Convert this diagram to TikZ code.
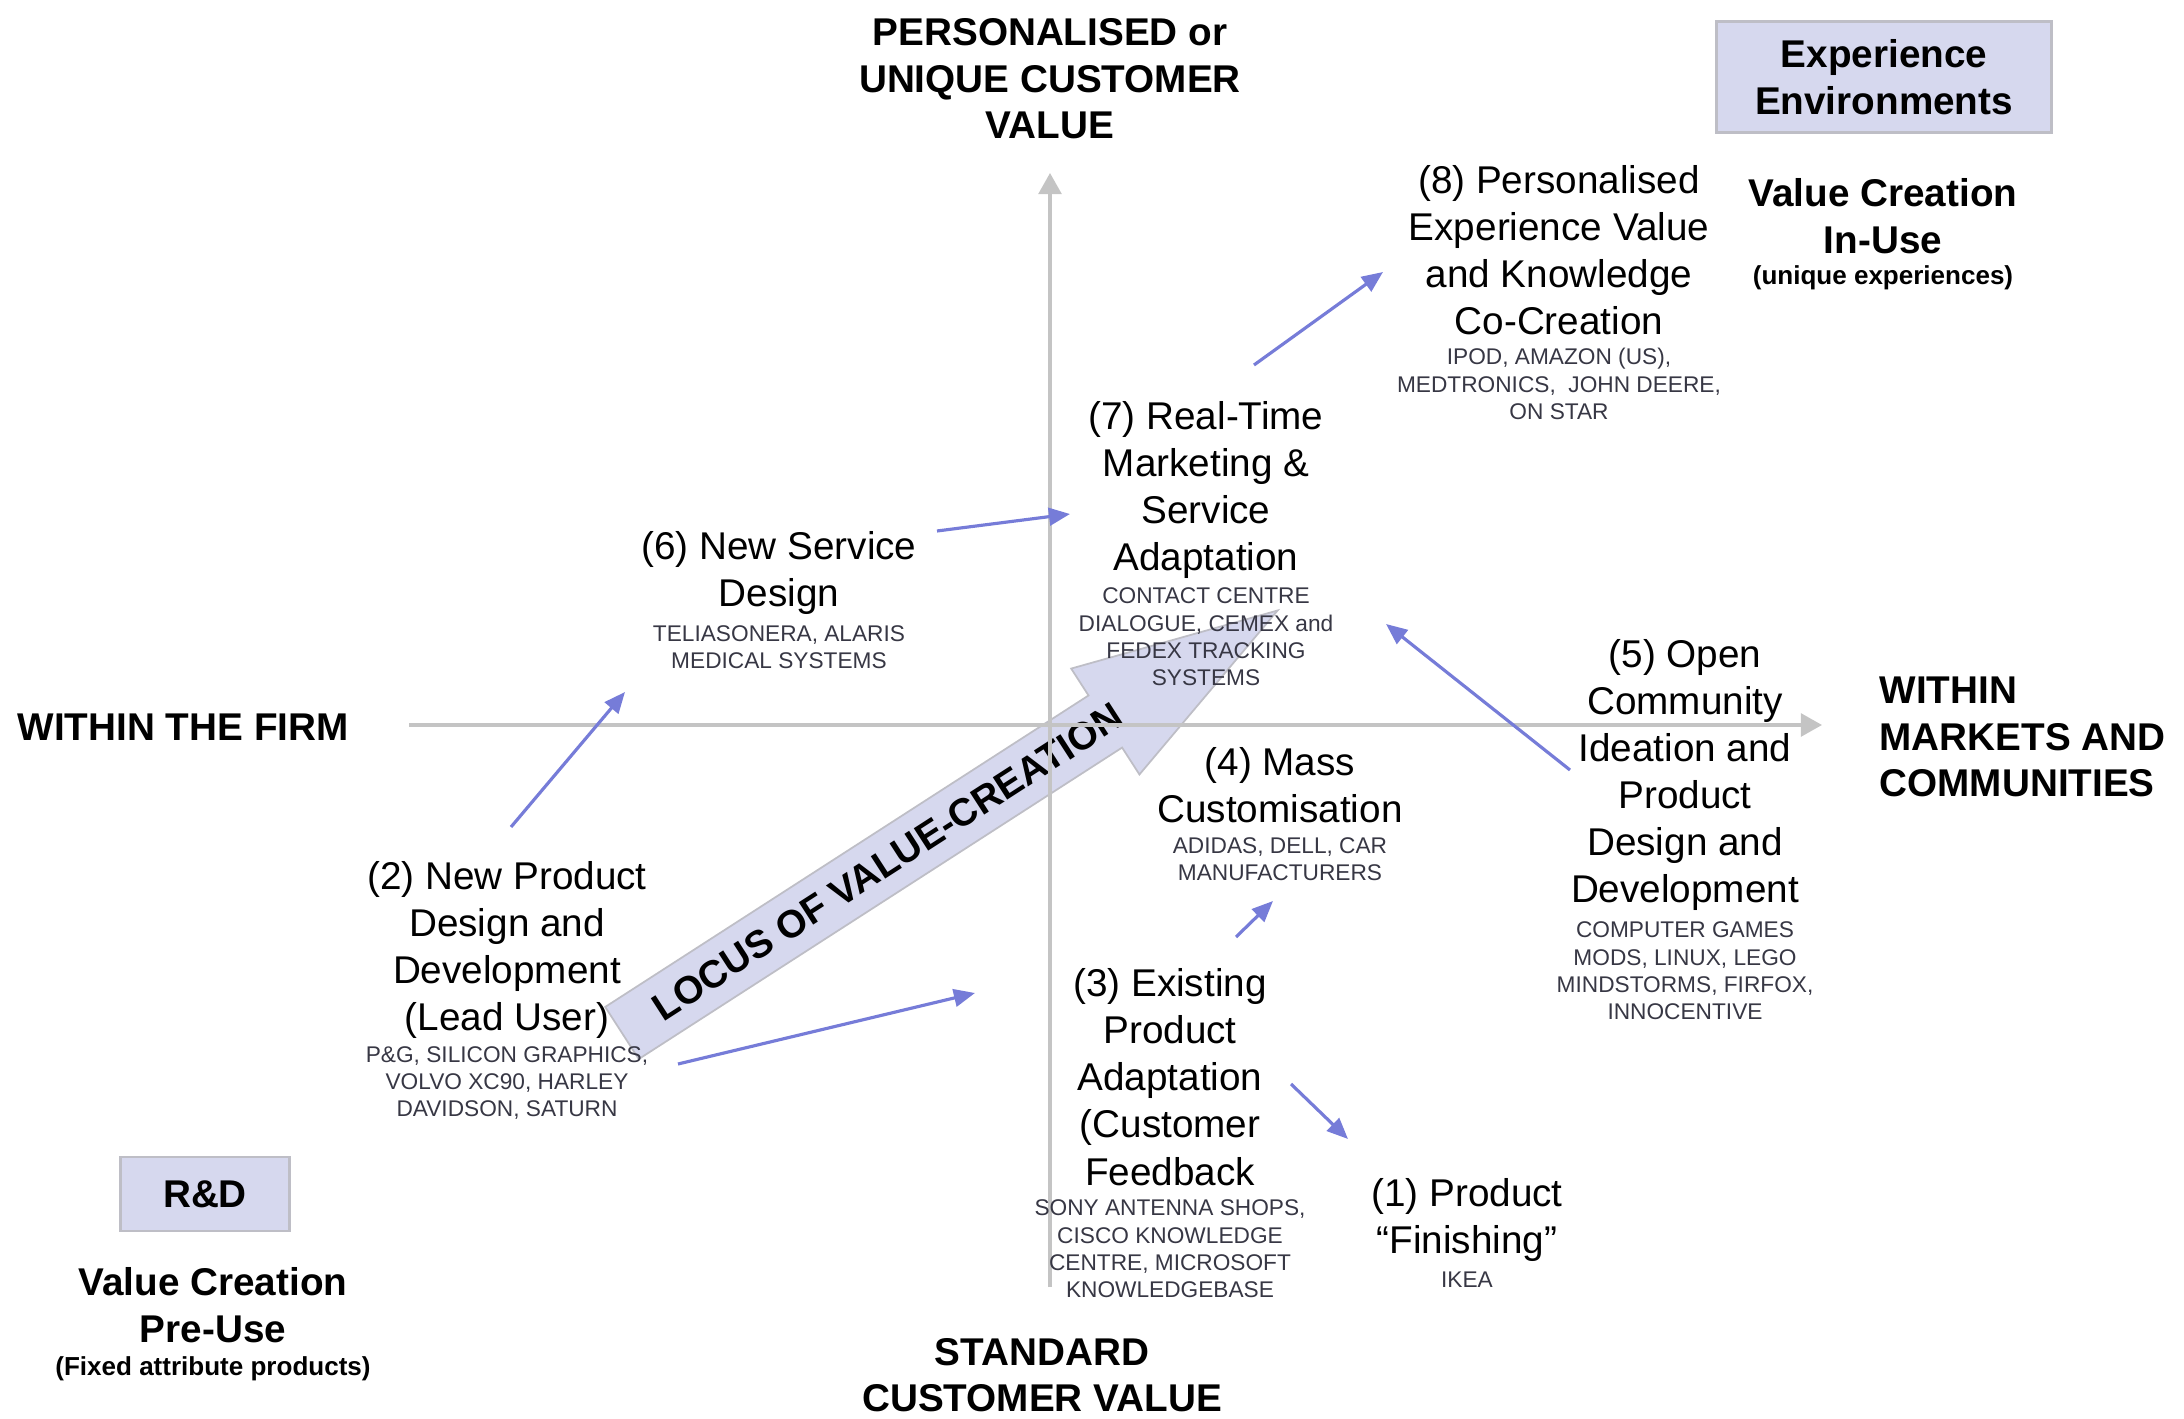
\documentclass[tikz,border=0pt]{standalone}
\usepackage{fontspec}
\setmainfont{Liberation Sans}
\usepackage{xcolor}
\usetikzlibrary{arrows.meta}

\definecolor{flowblue}{RGB}{118,124,216}
\definecolor{lavender}{RGB}{214,216,238}
\definecolor{boxgray}{RGB}{190,190,198}
\definecolor{axisgray}{RGB}{196,196,196}
\definecolor{firmgray}{RGB}{55,55,68}

\tikzset{
  stage/.style={align=center, inner sep=0pt, font=\fontsize{11}{13.4}\selectfont},
  firms/.style={align=center, inner sep=0pt, text=firmgray, font=\fontsize{6.45}{7.8}\selectfont},
  heading/.style={align=center, inner sep=0pt, font=\bfseries\fontsize{11}{13.2}\selectfont},
  note/.style={align=center, inner sep=0pt, font=\bfseries\fontsize{7.4}{9}\selectfont},
  zone/.style={draw=boxgray, fill=lavender, line width=0.8pt},
  flow/.style={draw=flowblue, line width=0.9pt, -{Triangle[length=6pt,width=5pt]}},
  axisline/.style={draw=axisgray, line width=0.9pt},
}

\begin{document}
\begin{tikzpicture}[x=0.01cm,y=-0.01cm]

\useasboundingbox (0,0) rectangle (2184,1419);

% locus of value creation
\begin{scope}[shift={(622,1033)},rotate=32.8]
\draw[draw=boxgray, fill=lavender, line width=0.5pt] (0,-31) -- (575,-31) -- (575,-63) -- (780,0) -- (575,63) -- (575,31) -- (0,31) -- cycle;
\node[heading, rotate=32.8] (locus) at (316,0) {LOCUS OF VALUE-CREATION};
\end{scope}

% axes
\coordinate (xstart) at (409,725);
\coordinate (xend) at (1822,725);
\coordinate (ystart) at (1050,1287);
\coordinate (yend) at (1050,173);
\draw[axisline, -{Triangle[length=6pt,width=6.5pt]}] (xstart) -- (xend);
\draw[axisline, -{Triangle[length=6pt,width=6.5pt]}] (ystart) -- (yend);

\node[heading] (top) at (1050,79) {PERSONALISED or\\UNIQUE CUSTOMER\\VALUE};
\node[heading] (bottom) at (1042,1375) {STANDARD\\CUSTOMER VALUE};
\node[heading, anchor=west] (firm) at (17,727) {WITHIN THE FIRM};
\node[heading, anchor=west, align=left] (market) at (1879,737) {WITHIN\\MARKETS AND\\COMMUNITIES};

% corner boxes
\node[zone, heading, minimum width=3.35cm, minimum height=1.11cm] (exp) at (1884,77) {Experience\\Environments};
\node[heading] (inuse) at (1883,216) {Value Creation\\In-Use};
\node[note] (inusenote) at (1883,278) {(unique experiences)};

\node[zone, heading, minimum width=1.69cm, minimum height=0.74cm] (rd) at (205,1194) {R\&D};
\node[heading] (preuse) at (213,1305) {Value Creation\\Pre-Use};
\node[note] (preusenote) at (213,1369) {(Fixed attribute products)};

% stages
\node[stage] (s8) at (1559,250) {(8) Personalised\\Experience Value\\and Knowledge\\Co-Creation};
\node[firms] (f8) at (1559,384) {IPOD, AMAZON (US),\\MEDTRONICS,\ \ JOHN DEERE,\\ON STAR};

\node[stage] (s7) at (1206,490) {(7) Real-Time\\Marketing \&\\Service\\Adaptation};
\node[firms] (f7) at (1206,637) {CONTACT CENTRE\\DIALOGUE, CEMEX and\\FEDEX TRACKING\\SYSTEMS};

\node[stage] (s6) at (779,573) {(6) New Service\\Design};
\node[firms] (f6) at (779,647) {TELIASONERA, ALARIS\\MEDICAL SYSTEMS};

\node[stage] (s5) at (1685,775) {(5) Open\\Community\\Ideation and\\Product\\Design and\\Development};
\node[firms] (f5) at (1685,971) {COMPUTER GAMES\\MODS, LINUX, LEGO\\MINDSTORMS, FIRFOX,\\INNOCENTIVE};

\node[stage] (s4) at (1280,785) {(4) Mass\\Customisation};
\node[firms] (f4) at (1280,859) {ADIDAS, DELL, CAR\\MANUFACTURERS};

\node[stage] (s3) at (1170,1077) {(3) Existing\\Product\\Adaptation\\(Customer\\Feedback};
\node[firms] (f3) at (1170,1249) {SONY ANTENNA SHOPS,\\CISCO KNOWLEDGE\\CENTRE, MICROSOFT\\KNOWLEDGEBASE};

\node[stage] (s2) at (507,950) {(2) New Product\\Design and\\Development\\(Lead User)};
\node[firms] (f2) at (507,1083) {P\&G, SILICON GRAPHICS,\\VOLVO XC90, HARLEY\\DAVIDSON, SATURN};

\node[stage] (s1) at (1467,1220) {(1) Product\\“Finishing”};
\node[firms] (f1) at (1467,1280) {IKEA};

% moves between stages
\coordinate (m26a) at (511,827);
\coordinate (m26b) at (625,692);
\coordinate (m23a) at (678,1064);
\coordinate (m23b) at (975,993);
\coordinate (m67a) at (937,531);
\coordinate (m67b) at (1070,514);
\coordinate (m78a) at (1254,365);
\coordinate (m78b) at (1383,272);
\coordinate (m57a) at (1570,770);
\coordinate (m57b) at (1386,624);
\coordinate (m34a) at (1236,937);
\coordinate (m34b) at (1273,901);
\coordinate (m31a) at (1291,1084);
\coordinate (m31b) at (1348,1139);

\draw[flow] (m26a) -- (m26b);
\draw[flow] (m23a) -- (m23b);
\draw[flow] (m67a) -- (m67b);
\draw[flow] (m78a) -- (m78b);
\draw[flow] (m57a) -- (m57b);
\draw[flow] (m34a) -- (m34b);
\draw[flow] (m31a) -- (m31b);

\end{tikzpicture}
\end{document}
